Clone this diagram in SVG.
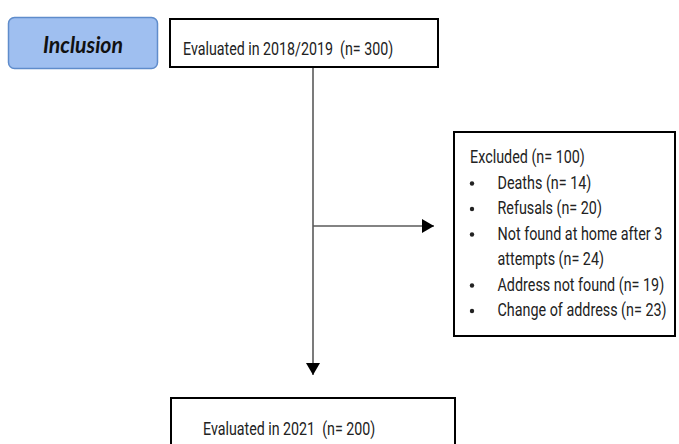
<svg xmlns="http://www.w3.org/2000/svg" width="679" height="444" viewBox="0 0 679 444">
<defs>
<style>
.box{fill:#fff;stroke:#000;stroke-width:2}
.t{font-family:Roboto,"Liberation Sans",sans-serif;font-size:17.5px;fill:#222}
.tb{font-family:Roboto,"Liberation Sans",sans-serif;font-size:18.5px;fill:#222}
.conn{stroke:#5a5a5a;stroke-width:1.6;fill:none}
.inc{font-family:Lato,"Open Sans","Liberation Sans",sans-serif;font-size:22px;font-weight:bold;font-style:italic;fill:#111}
</style>
<marker id="ah" viewBox="0 0 12 14" refX="12" refY="7" markerWidth="12" markerHeight="14" markerUnits="userSpaceOnUse" orient="auto">
<path d="M0,0 L12,7 L0,14 Z" fill="#000"/>
</marker>
</defs>
<rect width="679" height="444" fill="#fff"/>
<g id="inclusion">
<rect x="8.5" y="17.5" width="149" height="51" rx="6" fill="#9fbff0" stroke="#5f8ccb" stroke-width="1.5"/>
<text class="inc" x="43" y="52.5" textLength="80" lengthAdjust="spacingAndGlyphs">Inclusion</text>
</g>
<g id="eval2018">
<rect class="box" x="170" y="19" width="268" height="48"/>
<g transform="translate(183,0) scale(0.77,1)">
<text class="tb" x="0" y="55" xml:space="preserve">Evaluated in 2018/2019  (n= 300)</text>
</g>
</g>
<g id="excluded">
<rect class="box" x="454" y="132" width="221" height="204"/>
<g fill="#222">
<circle cx="472" cy="183.5" r="2.2"/>
<circle cx="472" cy="209" r="2.2"/>
<circle cx="472" cy="234.5" r="2.2"/>
<circle cx="472" cy="285.5" r="2.2"/>
<circle cx="472" cy="311" r="2.2"/>
</g>
<g transform="translate(470,0) scale(0.82,1)">
<text class="t" x="0" y="163">Excluded (n= 100)</text>
</g>
<g transform="translate(497.5,0) scale(0.82,1)">
<text class="t" x="0" y="189">Deaths (n= 14)</text>
<text class="t" x="0" y="214.5">Refusals (n= 20)</text>
<text class="t" x="0" y="240">Not found at home after 3</text>
<text class="t" x="0" y="265.5">attempts (n= 24)</text>
<text class="t" x="0" y="291">Address not found (n= 19)</text>
<text class="t" x="0" y="316.5">Change of address (n= 23)</text>
</g>
</g>
<g id="eval2021">
<rect class="box" x="171" y="398" width="284" height="60"/>
<g transform="translate(203,0) scale(0.77,1)">
<text class="tb" x="0" y="435" xml:space="preserve">Evaluated in 2021  (n= 200)</text>
</g>
</g>
<g id="connectors">
<line class="conn" x1="313" y1="68" x2="313" y2="375" marker-end="url(#ah)"/>
<line class="conn" x1="313" y1="226" x2="434" y2="226" marker-end="url(#ah)"/>
</g>
</svg>
